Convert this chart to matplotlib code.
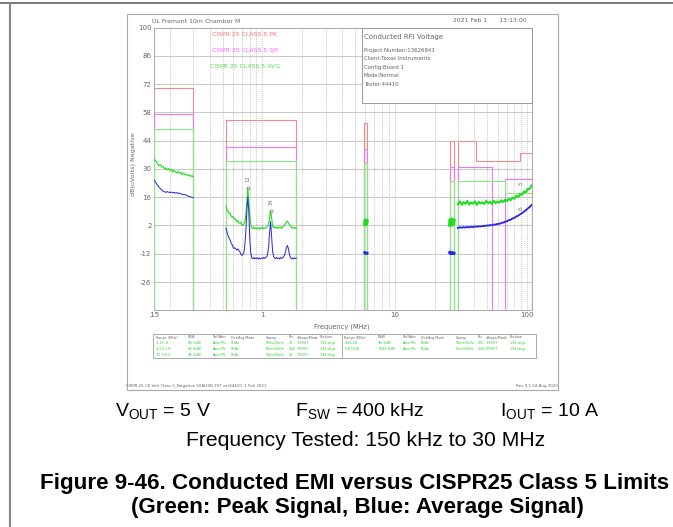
import numpy as np
import matplotlib.pyplot as plt
from matplotlib.lines import Line2D
from matplotlib.patches import Rectangle

plt.rcParams['mathtext.fontset'] = 'custom'
plt.rcParams['mathtext.rm'] = 'Liberation Sans'

W, H = 673, 527  # rozmiar obrazka w pikselach

# ---- dane (dBuV) ----
# pasmo 1: 0.15 - 0.3 MHz
f1 = np.geomspace(0.15, 0.30, 30)
pk1 = [35.2, 34.5, 33.8, 32.5, 31.6, 32.1, 30.9, 31.3, 30.0, 30.6, 29.5, 30.2, 29.1, 29.7, 28.4,
       29.3, 28.6, 28.0, 28.9, 27.8, 28.3, 27.2, 27.9, 27.0, 27.4, 26.6, 27.1, 26.3, 26.7, 26.0]
av1 = [24.9, 24.0, 22.8, 21.9, 21.0, 20.3, 19.6, 19.0, 18.7, 18.4, 18.8, 18.5, 18.3, 18.6, 18.2,
       18.4, 18.0, 18.3, 17.8, 18.0, 17.6, 17.4, 17.2, 17.3, 16.9, 16.6, 16.4, 16.2, 15.9, 15.7]

# pasmo 2: 0.53 - 1.8 MHz
f2 = np.geomspace(0.53, 1.8, 72)
pk2 = [11.4, 9.8, 9.1, 7.9, 8.2, 6.8, 6.1, 6.5, 5.2, 5.6,
       4.4, 3.9, 4.5, 3.3, 3.1, 3.6, 2.4, 2.1, 2.7, 3.8,
       7.1, 13.8, 20.4, 14.3, 6.5, 2.6, 0.9, 0.5, 1.2, 0.4,
       0.8, 0.3, 1.0, 0.6, 0.1, 0.9, 0.5, 1.1, 0.4, 0.8,
       0.6, 1.2, 1.7, 2.5, 5.8, 9.3, 6.1, 2.1, 0.9, 1.4,
       0.7, 1.2, 0.5, 1.1, 0.8, 1.3, 0.6, 1.0, 1.5, 2.1,
       2.9, 3.7, 4.2, 3.3, 2.5, 1.6, 1.2, 0.7, 1.1, 0.5,
       0.9, 0.6]
av2 = [0.7, -1.3, -2.8, -4.2, -5.0, -6.6, -7.3, -8.7, -9.4, -9.0,
       -9.7, -10.2, -9.6, -10.4, -11.0, -12.2, -12.8, -12.3, -11.6, -7.8,
       -1.3, 8.7, 16.0, 9.2, -4.3, -11.6, -14.0, -14.4, -13.8, -14.6,
       -14.1, -14.4, -13.9, -14.7, -14.2, -14.5, -14.0, -14.4, -13.8, -14.3,
       -13.9, -13.6, -12.3, -8.8, -1.8, 3.9, -2.8, -10.3, -13.4, -14.0,
       -14.4, -13.8, -14.3, -14.1, -14.6, -13.9, -14.4, -14.0, -13.6, -12.8,
       -11.3, -9.2, -7.9, -9.3, -12.0, -13.8, -14.4, -14.1, -14.6, -14.0,
       -14.4, -14.2]

# pasmo 3: 5.9 - 6.2 MHz
f3 = np.geomspace(5.9, 6.2, 6)
pk3 = [2.6, 4.6, 2.4, 4.8, 2.7, 4.3]
av3 = [-11.4, -11.8, -11.5, -11.9, -11.5, -11.7]

# pasmo 4: 26 - 28 MHz
f4 = np.geomspace(26, 28, 8)
pk4 = [2.2, 4.9, 2.5, 5.1, 2.3, 4.8, 2.6, 4.5]
av4 = [-11.4, -11.9, -11.5, -11.8, -11.6, -11.9, -11.5, -11.7]

# pasmo 5: 30 - 108 MHz
f5 = np.geomspace(30, 108, 40)
pk5 = [12.5, 13.9, 12.3, 13.6, 12.7, 14.1, 12.4, 13.4, 12.8, 14.0,
       12.2, 13.7, 12.9, 13.5, 12.6, 14.2, 13.0, 13.8, 12.7, 14.3,
       13.1, 13.9, 13.3, 14.5, 13.5, 14.8, 14.0, 15.3, 14.5, 15.9,
       15.3, 16.7, 16.1, 17.6, 17.2, 18.8, 18.5, 20.1, 20.1, 21.8]
av5 = [0.8, 1.1, 0.9, 1.2, 1.0, 1.3, 1.1, 1.4, 1.2, 1.5,
       1.4, 1.6, 1.5, 1.8, 1.7, 2.0, 1.9, 2.2, 2.1, 2.5,
       2.4, 2.8, 2.8, 3.3, 3.4, 3.9, 4.1, 4.6, 4.9, 5.5,
       5.8, 6.5, 6.9, 7.6, 8.1, 8.9, 9.5, 10.4, 11.1, 12.1]

# limity CISPR 25 klasa 5: (MHz, dBuV)
lim_pk = [[(0.15, 70), (0.30, 70)], [(0.53, 54), (1.8, 54)], [(5.9, 53), (6.2, 53)],
          [(26, 44), (28, 44)], [(30, 44), (41, 44), (41, 34), (88, 34), (88, 38), (108, 38)]]
lim_qp = [[(0.15, 57), (0.30, 57)], [(0.53, 41), (1.8, 41)], [(5.9, 40), (6.2, 40)],
          [(26, 31), (28, 31)], [(30, 31), (54, 31)], [(68, 25), (108, 25)]]
lim_av = [[(0.15, 50), (0.30, 50)], [(0.53, 34), (1.8, 34)], [(5.9, 33), (6.2, 33)],
          [(26, 24), (28, 24)], [(30, 24), (68, 24), (68, 18), (108, 18)]]

y_ticks = [100, 86, 72, 58, 44, 30, 16, 2, -12, -26, -40]
x_ticks = [0.15, 1, 10, 100]
x_labels = ['.15', '1', '10', '100']

info = ['Project Number:13626843', 'Client:Texas Instruments', 'Config:Board 1',
        'Mode:Normal', 'Tester:44410']

hdr = ['Range (MHz)', 'RBW', 'Ref/Attn', 'Det/Avg Mode', 'Sweep', 'Pts', '#Swps/Mode', 'Position']
rows_l = [['1:.15-.3', '9k(-6dB)', 'Auto/9%', 'Pk/Av', '50ms/5kHz', '30', '1/SRST', '194 degs'],
          ['2:.53-1.8', '9k(-6dB)', 'Auto/9%', 'Pk/Av', '50ms/5kHz', '254', '1/SRST', '194 degs'],
          ['3:5.9-6.2', '9k(-6dB)', 'Auto/9%', 'Pk/Av', '50ms/5kHz', '60', '1/SRST', '194 degs']]
rows_r = [['4:26-28', '9k(-6dB)', 'Auto/9%', 'Pk/Av', '50ms/5kHz', '400', '1/SRST', '194 degs'],
          ['5:30-108', '120k(-6dB)', 'Auto/9%', 'Pk/Av', '5ms/50kHz', '1560', '1/SRST', '194 degs']]


def fx(x):
    return x / W


def fy(y):
    return 1 - y / H


fig = plt.figure(figsize=(W / 100, H / 100), dpi=100)
fig.patch.set_facecolor('white')

# ramki strony
fig.add_artist(Line2D([0, 1], [fy(3), fy(3)], transform=fig.transFigure, color='#555555', lw=1.1))
fig.add_artist(Line2D([fx(9.5), fx(9.5)], [0, fy(3)], transform=fig.transFigure, color='#888888', lw=1.5))
fig.add_artist(Rectangle((fx(127), fy(390)), fx(558) - fx(127), fy(14) - fy(390),
                         transform=fig.transFigure, fill=False, ec='#aaaaaa', lw=0.8))

ax = fig.add_axes([fx(153.5), fy(310.3), fx(531.5) - fx(153.5), fy(27.6) - fy(310.3)])
ax.set_xscale('log')
ax.set_xlim(0.15, 108)
ax.set_ylim(-40, 100)

# siatka
for yv in y_ticks:
    ax.axhline(yv, color='#c8c8c8', lw=0.7, zorder=0)
grid_f = [0.2, 0.3, 0.4, 0.5, 0.6, 0.7, 0.8, 0.9, 1, 2, 3, 4, 5, 6, 7, 8, 9, 10,
          20, 30, 40, 50, 60, 70, 80, 90, 100]
for gf in grid_f:
    ax.axvline(gf, color='#b0b0b0', lw=0.6, ls=(0, (1, 1.5)), zorder=0)

ax.set_yticks(y_ticks)
ax.set_yticklabels([str(v) if v != -40 else '' for v in y_ticks])
ax.set_xticks(x_ticks)
ax.set_xticklabels(x_labels)
ax.xaxis.set_minor_locator(plt.NullLocator())
ax.tick_params(length=0, labelsize=5, labelcolor='#666666', pad=1.5)
for s in ax.spines.values():
    s.set_color('#aaaaaa')
    s.set_linewidth(0.7)

# limity
for lim, col, z in [(lim_pk, '#f08c8c', 2), (lim_qp, '#ee77ee', 3), (lim_av, '#88e888', 4)]:
    for g in lim:
        xs = [g[0][0]] + [p[0] for p in g] + [g[-1][0]]
        ys = [-40] + [p[1] for p in g] + [-40]
        ax.plot(xs, ys, color=col, lw=0.8, zorder=z)

# pomiary
for f, pk, av, lw in [(f1, pk1, av1, 0.8), (f2, pk2, av2, 0.8), (f3, pk3, av3, 2.0),
                      (f4, pk4, av4, 2.4), (f5, pk5, av5, 1.5)]:
    ax.plot(f, pk, color='#22dd22', lw=lw, zorder=6)
    ax.plot(f, av, color='#2a2ae0', lw=lw * 0.9, zorder=7)

# znaczniki
ax.plot([0.775, 1.16], [20.4, 9.3], 'o', ms=2.2, mfc='none', mec='#777777', mew=0.5, zorder=8)
ax.text(0.775, 25, '12', fontsize=3.8, rotation=90, color='#777777', ha='center', va='center', zorder=8)
ax.text(1.16, 14, '34', fontsize=3.8, rotation=90, color='#777777', ha='center', va='center', zorder=8)
ax.text(90, 23, '5', fontsize=4.2, rotation=90, color='#777777', ha='center', va='center', zorder=8)
ax.text(90, 10.7, '6', fontsize=4.2, rotation=90, color='#777777', ha='center', va='center', zorder=8)

# legenda
ax.text(fx(211.7), fy(35), 'CISPR 25 CLASS 5 PK', transform=fig.transFigure, fontsize=4.4,
        color='#ff6f6f', va='center')
ax.text(fx(211.7), fy(50), 'CISPR 25 CLASS 5 QP', transform=fig.transFigure, fontsize=4.4,
        color='#ff5cff', va='center')
ax.text(fx(210), fy(66.5), 'CISPR 25 CLASS 5 AVG', transform=fig.transFigure, fontsize=4.4,
        color='#55dd55', va='center')

# okno informacyjne
fig.add_artist(Rectangle((fx(362), fy(103)), fx(531.7) - fx(362), fy(28.3) - fy(103),
                         transform=fig.transFigure, fc='white', ec='#999999', lw=0.7, zorder=5))
fig.text(fx(364), fy(36.5), 'Conducted RFI Voltage', fontsize=5.0, color='#666666', va='center', zorder=6)
for i, t in enumerate(info):
    fig.text(fx(364), fy(50.5 + i * 8.4), t, fontsize=3.9, color='#666666', va='center', zorder=6)

# napisy wokol wykresu
fig.text(fx(152), fy(21.5), 'UL Fremont 10m Chamber M', fontsize=4.4, color='#666666', va='center')
fig.text(fx(527), fy(20.5), '2021 Feb 1      13:13:00', fontsize=4.4, color='#666666',
         va='center', ha='right')
fig.text(fx(133), fy(164), 'dB(uVolts) Negative', fontsize=4.6, color='#666666', rotation=90,
         ha='center', va='center')
fig.text(fx(342), fy(327), 'Frequency (MHz)', fontsize=4.8, color='#666666', ha='center', va='center')

# tabela ustawien
fig.add_artist(Rectangle((fx(152.7), fy(358.3)), fx(536) - fx(152.7), fy(333.5) - fy(358.3),
                         transform=fig.transFigure, fill=False, ec='#aaaaaa', lw=0.7))
fig.add_artist(Line2D([fx(342.3), fx(342.3)], [fy(358.3), fy(333.5)], transform=fig.transFigure,
                      color='#aaaaaa', lw=0.6))
cols_l = [155.5, 188, 212.7, 230.7, 266, 289, 297, 320]
cols_r = [344.5, 378, 402.7, 421, 455.7, 477.7, 486, 509.5]
for cols, rows in [(cols_l, rows_l), (cols_r, rows_r)]:
    for c, h in zip(cols, hdr):
        fig.text(fx(c), fy(337.5), h, fontsize=2.4, color='#666666', va='center')
    for r, row in enumerate(rows):
        for c, t in zip(cols, row):
            fig.text(fx(c), fy(343 + r * 6), t, fontsize=2.4, color='#33cc33', va='center')

fig.text(fx(126.5), fy(386.5), 'CISPR 25 CE Volt Class 5_Negative 50ALISN.TST ver44410  1 Feb 2021',
         fontsize=2.9, color='#666666', va='center')
fig.text(fx(557.5), fy(386.5), 'Rev 9.5 04 Aug 2020', fontsize=2.9, color='#666666',
         va='center', ha='right')

# podpis
cap = ['Liberation Sans', 'DejaVu Sans']
fig.text(fx(115), fy(412), r'V$_{\mathrm{OUT}}$ = 5 V', fontsize=14, family=cap, va='center')
fig.text(fx(295), fy(412), r'F$_{\mathrm{SW}}$ = 400 kHz', fontsize=14, family=cap, va='center')
fig.text(fx(500), fy(412), r'I$_{\mathrm{OUT}}$ = 10 A', fontsize=14, family=cap, va='center')
fig.text(fx(366), fy(441), 'Frequency Tested: 150 kHz to 30 MHz', fontsize=15.2, family=cap,
         ha='center', va='center')
fig.text(fx(355), fy(484), 'Figure 9-46. Conducted EMI versus CISPR25 Class 5 Limits', fontsize=16.1,
         family=cap, weight='bold', ha='center', va='center')
fig.text(fx(357), fy(507), '(Green: Peak Signal, Blue: Average Signal)', fontsize=16.1,
         family=cap, weight='bold', ha='center', va='center')

fig.savefig('out.png', dpi=100)
